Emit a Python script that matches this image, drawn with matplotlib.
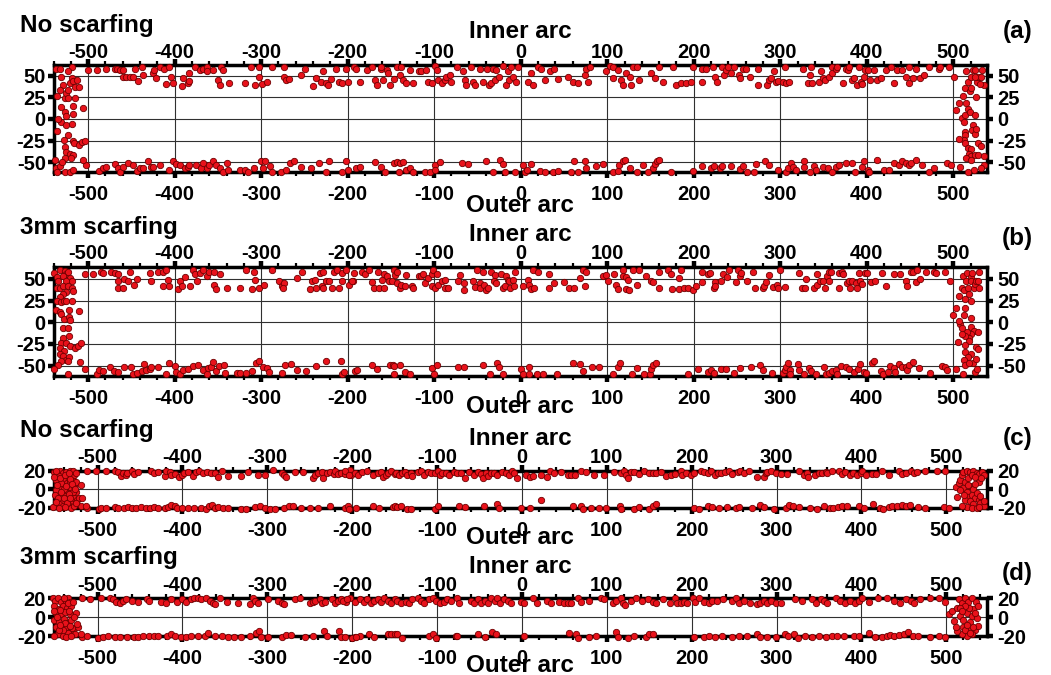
import matplotlib.pyplot as plt
import numpy as np
from matplotlib.ticker import MultipleLocator

plt.rcParams['font.family'] = ['Liberation Sans', 'DejaVu Sans']
plt.rcParams['font.weight'] = 'bold'
plt.rcParams['axes.unicode_minus'] = False

# ---- (a) no scarfing, 60 mm section ----
a_inner = [(-500, 57), (-490, 57), (-479, 58), (-469, 58), (-467, 58), (-463, 57), (-460, 57), (-460, 48),
           (-456, 49), (-451, 48), (-446, 58), (-448, 48), (-442, 44), (-438, 60), (-437, 51), (-425, 53),
           (-424, 57), (-421, 47), (-417, 60), (-412, 58), (-406, 60), (-410, 40), (-404, 48), (-402, 41),
           (-392, 38), (-390, 47), (-385, 42), (-383, 53), (-383, 44), (-376, 60), (-371, 57), (-367, 58),
           (-363, 60), (-362, 55), (-356, 57), (-350, 45), (-348, 39), (-346, 60), (-344, 57), (-337, 41),
           (-319, 42), (-312, 60), (-307, 39), (-302, 49), (-302, 60), (-299, 40), (-293, 43), (-287, 60),
           (-274, 49), (-273, 60), (-271, 45), (-268, 46), (-254, 51), (-249, 58), (-240, 38), (-237, 47),
           (-231, 43), (-229, 55), (-225, 42), (-223, 39), (-219, 46), (-213, 58), (-210, 43), (-206, 41),
           (-202, 58), (-200, 43), (-193, 60), (-190, 58), (-186, 43), (-178, 57), (-172, 60), (-168, 45),
           (-166, 39), (-162, 58), (-161, 60), (-159, 45), (-155, 57), (-153, 53), (-151, 39), (-147, 46),
           (-143, 60), (-140, 51), (-138, 60), (-136, 45), (-132, 41), (-128, 57), (-124, 42), (-118, 55),
           (-115, 55), (-109, 57), (-107, 43), (-103, 41), (-99, 61), (-97, 57), (-95, 45), (-91, 41),
           (-88, 45), (-86, 49), (-82, 51), (-80, 43), (-74, 60), (-67, 55), (-64, 45), (-63, 39),
           (-57, 60), (-55, 43), (-53, 39), (-47, 58), (-43, 43), (-39, 58), (-37, 39), (-34, 42),
           (-32, 58), (-30, 45), (-28, 57), (-25, 48), (-20, 61), (-17, 39), (-15, 55), (-13, 45),
           (-11, 60), (-9, 49), (-5, 43), (-3, 60), (8, 43), (12, 53), (14, 39), (20, 60),
           (24, 58), (28, 45), (34, 55), (39, 58), (43, 46), (55, 48), (61, 43), (66, 41),
           (74, 51), (76, 58), (78, 43), (80, 60), (99, 55), (103, 61), (107, 60), (107, 47),
           (112, 57), (116, 45), (118, 39), (122, 53), (126, 49), (128, 39), (130, 60), (134, 60),
           (137, 45), (151, 53), (155, 47), (160, 60), (164, 43), (176, 60), (180, 39), (185, 41),
           (191, 41), (197, 43), (199, 60), (210, 43), (210, 58), (214, 58), (222, 60), (225, 49),
           (227, 43), (233, 60), (235, 51), (237, 57), (240, 60), (243, 53), (247, 60), (252, 51),
           (253, 47), (257, 58), (260, 58), (265, 49), (274, 58), (274, 39), (285, 39), (287, 45),
           (289, 47), (293, 55), (295, 43), (298, 44), (305, 60), (303, 43), (307, 41), (310, 43),
           (326, 58), (332, 41), (334, 51), (336, 60), (337, 42), (345, 43), (347, 55), (349, 47),
           (352, 45), (356, 49), (360, 60), (360, 53), (364, 58), (366, 60), (373, 42), (376, 58),
           (378, 57), (380, 60), (383, 45), (385, 47), (389, 39), (391, 60), (393, 43), (395, 40),
           (397, 49), (398, 57), (402, 57), (404, 45), (408, 57), (412, 45), (416, 47), (422, 57),
           (428, 60), (432, 42), (435, 57), (441, 57), (445, 49), (449, 60), (449, 42), (453, 47),
           (457, 58), (462, 47), (466, 51), (472, 60), (483, 58), (485, 60), (495, 60)]
a_outer = [(-502, -53), (-487, -60), (-483, -56), (-479, -55), (-469, -52), (-465, -57), (-463, -61),
           (-460, -55), (-454, -51), (-448, -53), (-444, -60), (-440, -57), (-437, -57), (-431, -48),
           (-427, -55), (-425, -55), (-417, -53), (-406, -59), (-402, -48), (-398, -52), (-394, -53),
           (-388, -57), (-385, -55), (-383, -53), (-375, -53), (-369, -57), (-367, -51), (-362, -57),
           (-360, -53), (-356, -48), (-352, -53), (-348, -57), (-344, -61), (-340, -51), (-338, -59),
           (-325, -59), (-319, -59), (-315, -61), (-308, -57), (-300, -48), (-296, -48), (-298, -57),
           (-290, -54), (-287, -61), (-277, -61), (-271, -59), (-267, -51), (-262, -49), (-254, -55),
           (-242, -57), (-233, -51), (-225, -61), (-221, -48), (-206, -61), (-202, -48), (-200, -59),
           (-190, -57), (-186, -55), (-168, -50), (-161, -55), (-157, -61), (-147, -51), (-143, -50),
           (-140, -51), (-141, -61), (-136, -50), (-132, -59), (-128, -57), (-124, -61), (-111, -61),
           (-105, -61), (-99, -53), (-99, -59), (-93, -50), (-68, -51), (-61, -52), (-40, -49),
           (-32, -61), (-24, -47), (-21, -52), (-18, -61), (-7, -61), (3, -53), (5, -61), (7, -59),
           (12, -52), (22, -60), (28, -61), (37, -61), (43, -60), (62, -48), (58, -61), (66, -61),
           (74, -49), (76, -57), (87, -54), (95, -52), (107, -61), (112, -60), (114, -53), (118, -49),
           (120, -47), (126, -57), (134, -61), (141, -53), (147, -61), (153, -57), (155, -52),
           (157, -49), (160, -47), (174, -61), (199, -60), (210, -54), (220, -57), (224, -54),
           (230, -57), (233, -54), (243, -54), (253, -58), (257, -54), (262, -61), (270, -61),
           (272, -52), (282, -49), (287, -53), (297, -59), (307, -61), (309, -57), (313, -51),
           (315, -55), (318, -59), (328, -49), (328, -55), (334, -61), (339, -54), (341, -59),
           (349, -55), (355, -57), (360, -61), (364, -55), (368, -53), (376, -51), (383, -51),
           (387, -61), (395, -55), (397, -49), (401, -59), (403, -61), (412, -47), (420, -59),
           (426, -59), (432, -51), (437, -53), (441, -49), (445, -51), (449, -53), (451, -51),
           (457, -47), (464, -53), (472, -61), (478, -57), (493, -51), (497, -53), (508, -55)]
a_end_l = [(-537, 58), (-533, 58), (-531, 49), (-529, 39), (-532, 33), (-536, 27), (-527, 24), (-525, 30),
           (-523, 33), (-521, 41), (-519, 47), (-519, 60), (-523, 55), (-517, 44), (-515, 37), (-513, 45),
           (-511, 37), (-515, 24), (-523, 24), (-531, 14), (-527, 8), (-525, 3), (-531, -3), (-535, 0),
           (-536, -14), (-517, 15), (-517, 6), (-519, -6), (-525, -7), (-523, -18), (-528, -24),
           (-517, -25), (-516, -28), (-510, -30), (-507, -27), (-504, -25), (-506, 13), (-527, -32),
           (-525, -38), (-521, -40), (-517, -41), (-527, -45), (-520, -45), (-506, -47), (-537, -56),
           (-533, -54), (-530, -50), (-527, -61), (-521, -61), (-517, -59), (-538, -47), (-536, -61)]
a_end_r = [(501, 49), (503, 10), (507, 19), (511, 27), (513, 36), (515, 55), (517, 43), (519, 32),
           (520, 48), (521, 36), (523, 57), (525, 57), (526, 25), (527, 43), (529, 48), (532, 48),
           (533, 57), (536, 39), (531, 40), (525, 49), (510, 1), (512, -3), (514, 5), (515, 18),
           (517, 12), (519, 8), (523, -7), (525, 5), (522, -13), (525, -17), (526, -11), (513, -15),
           (514, -18), (512, -24), (507, -23), (514, -28), (517, -34), (521, -35), (518, -40),
           (520, -43), (515, -45), (525, -42), (529, -28), (532, -31), (529, -41), (536, -43),
           (536, -53), (532, -57), (524, -59), (517, -61), (520, -47)]

# ---- (b) 3mm scarfing, 60 mm section ----
b_inner = [(-504, 56), (-494, 56), (-485, 58), (-483, 57), (-473, 58), (-469, 57), (-465, 56), (-465, 47),
           (-465, 40), (-460, 40), (-459, 50), (-454, 48), (-452, 58), (-447, 43), (-443, 50), (-429, 57),
           (-427, 47), (-419, 58), (-414, 42), (-413, 58), (-410, 60), (-408, 49), (-407, 42), (-396, 38),
           (-394, 47), (-391, 42), (-388, 52), (-382, 42), (-379, 60), (-377, 56), (-374, 48), (-371, 57),
           (-367, 60), (-363, 53), (-360, 58), (-354, 58), (-354, 43), (-352, 38), (-348, 56), (-340, 39),
           (-325, 40), (-317, 60), (-310, 38), (-308, 58), (-307, 49), (-303, 40), (-297, 43), (-288, 60),
           (-279, 48), (-276, 42), (-273, 45), (-275, 39), (-258, 51), (-253, 58), (-244, 38), (-241, 48),
           (-238, 49), (-237, 40), (-232, 57), (-229, 58), (-230, 42), (-228, 39), (-225, 47), (-222, 47),
           (-218, 40), (-216, 58), (-212, 60), (-210, 40), (-206, 47), (-206, 57), (-202, 60), (-199, 43),
           (-194, 48), (-193, 57), (-195, 48), (-183, 58), (-180, 56), (-175, 60), (-172, 46), (-170, 40),
           (-165, 58), (-164, 40), (-160, 49), (-158, 56), (-158, 40), (-155, 53), (-152, 47), (-149, 48),
           (-147, 60), (-145, 55), (-143, 58), (-143, 45), (-140, 40), (-138, 43), (-134, 42), (-132, 55),
           (-126, 42), (-124, 40), (-118, 53), (-115, 53), (-113, 56), (-111, 45), (-107, 51), (-103, 56),
           (-101, 60), (-97, 56), (-103, 42), (-99, 39), (-95, 43), (-91, 47), (-88, 49), (-88, 40),
           (-84, 40), (-72, 47), (-70, 55), (-66, 45), (-66, 37), (-55, 47), (-51, 60), (-53, 41),
           (-47, 45), (-47, 39), (-43, 58), (-42, 43), (-40, 37), (-38, 40), (-34, 58), (-31, 47),
           (-30, 55), (-29, 45), (-23, 56), (-20, 39), (-18, 42), (-17, 53), (-15, 49), (-13, 47),
           (-12, 40), (-9, 49), (-8, 42), (-7, 58), (3, 42), (8, 49), (10, 43), (12, 38), (15, 40),
           (14, 60), (20, 58), (33, 56), (33, 39), (39, 45), (50, 46), (56, 40), (62, 40), (68, 51),
           (72, 60), (76, 58), (74, 42), (95, 53), (99, 55), (101, 47), (108, 56), (110, 43), (112, 38),
           (118, 60), (118, 53), (122, 52), (124, 49), (122, 38), (125, 37), (130, 60), (134, 43),
           (137, 60), (145, 53), (151, 48), (153, 46), (160, 40), (160, 58), (170, 60), (174, 56),
           (175, 38), (183, 38), (183, 51), (185, 60), (189, 39), (193, 39), (199, 37), (203, 42),
           (210, 58), (210, 46), (216, 56), (219, 57), (224, 39), (225, 46), (225, 42), (231, 48),
           (234, 56), (239, 52), (241, 60), (249, 46), (251, 60), (253, 53), (255, 57), (262, 48),
           (268, 58), (271, 40), (280, 39), (281, 42), (283, 46), (287, 55), (292, 41), (296, 43),
           (298, 39), (300, 60), (306, 41), (322, 57), (325, 40), (329, 40), (330, 50), (339, 40),
           (342, 56), (343, 43), (346, 47), (350, 48), (352, 40), (354, 53), (356, 58), (356, 47),
           (359, 58), (368, 40), (368, 57), (371, 58), (372, 56), (377, 45), (379, 48), (381, 40),
           (383, 47), (388, 45), (389, 40), (391, 57), (392, 48), (395, 44), (398, 57), (400, 57),
           (405, 46), (409, 47), (418, 57), (422, 42), (432, 56), (439, 56), (445, 48), (447, 42),
           (451, 58), (453, 58), (458, 60), (457, 46), (462, 50), (468, 58), (478, 58), (480, 57),
           (490, 58), (496, 48)]
b_outer = [(-490, -59), (-487, -55), (-483, -56), (-475, -52), (-470, -56), (-465, -57), (-458, -51),
           (-450, -52), (-448, -59), (-444, -58), (-438, -56), (-435, -48), (-433, -55), (-429, -54),
           (-427, -51), (-419, -51), (-410, -59), (-406, -47), (-400, -50), (-398, -57), (-394, -59),
           (-390, -55), (-385, -54), (-379, -50), (-373, -49), (-367, -55), (-363, -59), (-361, -53),
           (-358, -51), (-356, -46), (-352, -56), (-349, -50), (-342, -58), (-343, -49), (-328, -58),
           (-324, -58), (-318, -58), (-310, -56), (-306, -47), (-303, -45), (-298, -51), (-293, -53),
           (-291, -57), (-276, -58), (-272, -49), (-266, -48), (-258, -55), (-248, -56), (-237, -50),
           (-225, -45), (-208, -45), (-206, -59), (-204, -57), (-192, -56), (-189, -55), (-172, -49),
           (-166, -54), (-151, -49), (-148, -49), (-146, -50), (-140, -49), (-147, -59), (-134, -57),
           (-128, -59), (-103, -53), (-100, -59), (-97, -49), (-72, -51), (-66, -51), (-43, -49),
           (-35, -59), (-27, -47), (-25, -52), (-21, -59), (0, -54), (3, -59), (10, -59), (10, -52),
           (19, -59), (26, -59), (42, -59), (60, -47), (69, -48), (72, -56), (83, -52), (90, -51),
           (107, -59), (112, -51), (115, -47), (129, -59), (135, -53), (142, -60), (149, -59),
           (151, -54), (153, -49), (156, -47), (193, -60), (205, -54), (216, -57), (220, -55),
           (224, -58), (232, -54), (237, -54), (247, -58), (253, -53), (266, -52), (277, -49),
           (280, -55), (290, -58), (303, -58), (305, -55), (307, -52), (309, -47), (311, -55),
           (311, -59), (321, -48), (322, -55), (328, -60), (333, -53), (335, -56), (341, -59),
           (351, -52), (353, -59), (356, -58), (360, -56), (364, -55), (366, -59), (370, -50),
           (376, -51), (379, -54), (385, -57), (390, -54), (392, -48), (397, -57), (399, -58),
           (406, -47), (408, -45), (416, -56), (419, -59), (424, -57), (427, -50), (432, -53),
           (433, -57), (437, -48), (441, -51), (445, -51), (447, -55), (449, -49), (453, -46),
           (460, -53), (473, -58), (487, -50), (490, -51), (493, -55), (503, -54)]
b_end_l = [(-540, 57), (-536, 52), (-533, 60), (-527, 59), (-525, 56), (-523, 58), (-529, 53), (-521, 51),
           (-519, 48), (-525, 47), (-535, 47), (-536, 40), (-533, 39), (-529, 42), (-523, 42), (-519, 40),
           (-517, 36), (-525, 35), (-529, 33), (-533, 29), (-536, 25), (-531, 23), (-528, 25), (-525, 24),
           (-519, 24), (-537, 14), (-533, 12), (-531, 9), (-528, 4), (-522, 14), (-522, 6), (-521, 3),
           (-510, 13), (-529, -7), (-523, -7), (-522, -16), (-529, -18), (-531, -24), (-533, -30),
           (-528, -33), (-525, -24), (-521, -27), (-515, -30), (-512, -27), (-508, -24), (-533, -36),
           (-529, -39), (-525, -43), (-522, -40), (-531, -44), (-535, -49), (-539, -54), (-523, -45),
           (-509, -46), (-523, -59), (-504, -54)]
b_end_r = [(500, 8), (503, 17), (505, -23), (507, 30), (510, 40), (511, 53), (512, 37), (513, 27),
           (514, 16), (515, 47), (516, 57), (517, 40), (518, 33), (520, 52), (521, 24), (521, 47),
           (522, 57), (524, 40), (525, 44), (526, 47), (529, 48), (530, 58), (530, 39), (520, 5),
           (521, -5), (524, -10), (521, -14), (518, -18), (516, -11), (514, -16), (510, -14), (508, -2),
           (510, -7), (507, 2), (512, 8), (518, -22), (513, -26), (514, -34), (520, -36), (517, -40),
           (523, -47), (526, -42), (526, -28), (529, -31), (529, -11), (512, -43), (513, -49),
           (511, -59), (525, -57), (527, -54), (518, -47)]

# ---- (c) no scarfing, 20 mm section ----
c_inner = [(-513, 20), (-502, 20), (-490, 20), (-480, 20), (-476, 19), (-473, 14), (-470, 17), (-466, 15),
           (-465, 18), (-459, 20), (-457, 16), (-453, 19), (-437, 20), (-433, 18), (-429, 19), (-421, 14),
           (-419, 20), (-415, 19), (-413, 15), (-409, 16), (-404, 13), (-400, 15), (-398, 17), (-394, 19),
           (-388, 14), (-384, 19), (-380, 20), (-376, 18), (-371, 19), (-366, 18), (-362, 17), (-358, 13),
           (-354, 20), (-346, 14), (-331, 14), (-323, 19), (-311, 15), (-303, 15), (-293, 21), (-283, 17),
           (-280, 15), (-278, 13), (-268, 19), (-258, 19), (-246, 12), (-244, 15), (-240, 17), (-236, 19),
           (-234, 12), (-230, 17), (-226, 19), (-222, 16), (-220, 20), (-217, 16), (-213, 18), (-209, 16),
           (-203, 21), (-201, 15), (-197, 17), (-193, 15), (-209, 20), (-204, 15), (-188, 19), (-182, 20),
           (-176, 15), (-170, 17), (-166, 19), (-164, 13), (-160, 15), (-158, 17), (-154, 20), (-150, 16),
           (-149, 18), (-145, 15), (-141, 17), (-138, 19), (-135, 15), (-131, 17), (-129, 14), (-123, 19),
           (-119, 20), (-115, 15), (-111, 19), (-107, 17), (-103, 18), (-99, 20), (-97, 15), (-94, 18),
           (-90, 17), (-86, 15), (-80, 19), (-76, 17), (-72, 18), (-67, 12), (-62, 19), (-56, 15),
           (-52, 19), (-48, 16), (-46, 12), (-42, 18), (-40, 14), (-37, 18), (-33, 17), (-29, 15),
           (-23, 19), (-19, 17), (-15, 15), (-12, 20), (-9, 17), (-6, 12), (5, 15), (9, 13), (13, 14),
           (22, 15), (30, 13), (33, 20), (38, 17), (46, 19), (54, 15), (58, 15), (62, 15), (70, 20),
           (75, 19), (85, 15), (97, 15), (109, 19), (117, 17), (120, 20), (123, 15), (125, 12),
           (128, 19), (132, 19), (138, 16), (144, 20), (150, 17), (154, 17), (158, 17), (164, 19),
           (170, 14), (176, 15), (180, 16), (187, 20), (189, 15), (193, 17), (199, 15), (203, 17),
           (211, 20), (215, 19), (219, 17), (223, 20), (228, 15), (231, 17), (235, 18), (239, 19),
           (244, 20), (248, 16), (254, 19), (257, 20), (262, 17), (267, 20), (277, 13), (285, 13),
           (287, 17), (289, 19), (294, 20), (299, 17), (305, 16), (312, 16), (326, 20), (332, 15),
           (336, 17), (337, 13), (345, 15), (350, 17), (354, 18), (358, 19), (360, 17), (365, 20),
           (374, 20), (377, 16), (381, 19), (387, 15), (390, 17), (395, 15), (399, 17), (401, 20),
           (405, 15), (413, 16), (417, 16), (424, 20), (433, 15), (444, 20), (448, 16), (453, 17),
           (458, 20), (462, 17), (466, 19), (475, 20), (489, 20), (499, 20)]
c_outer = [(-541, -19), (-520, -18), (-513, -20), (-498, -21), (-496, -20), (-490, -20), (-480, -19),
           (-476, -20), (-469, -20), (-464, -19), (-459, -20), (-455, -20), (-449, -19), (-443, -20),
           (-438, -20), (-434, -19), (-429, -20), (-421, -20), (-417, -19), (-413, -17), (-409, -18),
           (-406, -20), (-400, -20), (-394, -20), (-387, -20), (-378, -20), (-372, -21), (-369, -18),
           (-365, -17), (-362, -20), (-358, -19), (-352, -20), (-346, -20), (-331, -21), (-325, -21),
           (-315, -19), (-309, -18), (-303, -20), (-297, -21), (-291, -21), (-280, -20), (-275, -18),
           (-270, -18), (-260, -20), (-250, -20), (-240, -20), (-226, -18), (-209, -20), (-205, -18),
           (-204, -21), (-196, -20), (-176, -18), (-168, -20), (-152, -19), (-150, -18), (-147, -19),
           (-143, -18), (-135, -21), (-131, -21), (-103, -21), (-99, -18), (-74, -18), (-67, -19),
           (-45, -18), (-29, -16), (-27, -20), (-1, -20), (10, -20), (22, -12), (60, -18), (70, -18),
           (72, -21), (81, -20), (91, -20), (99, -20), (115, -18), (117, -21), (132, -21), (138, -19),
           (150, -21), (154, -18), (158, -16), (203, -20), (209, -21), (219, -18), (224, -19),
           (232, -20), (242, -19), (252, -20), (256, -19), (271, -20), (281, -17), (285, -19),
           (297, -21), (311, -20), (315, -17), (319, -18), (326, -19), (340, -20), (348, -21),
           (356, -18), (363, -20), (367, -20), (373, -19), (377, -18), (383, -18), (397, -18),
           (403, -20), (414, -16), (422, -20), (426, -21), (432, -19), (436, -18), (442, -18),
           (448, -17), (453, -18), (457, -17), (467, -19), (475, -20), (497, -19), (503, -20)]
c_end_l = [(-551, 19), (-549, 10), (-547, 16), (-544, 20), (-541, 17), (-539, 11), (-537, 19), (-535, 14),
           (-533, 20), (-531, 16), (-529, 10), (-536, 7), (-541, 4), (-545, 1), (-549, -1), (-550, -6),
           (-544, -8), (-539, -4), (-535, -1), (-532, 2), (-528, 4), (-531, -8), (-537, -12), (-542, -13),
           (-546, -16), (-541, -18), (-535, -17), (-531, -20), (-529, -13), (-528, -10), (-526, -3),
           (-529, -3), (-526, 8), (-528, 15), (-520, 5), (-524, -12), (-522, -10), (-518, -9),
           (-514, -18), (-553, -19), (-543, 7), (-533, 8), (-538, -1), (-546, 14), (-529, 20), (-528, -18),
           (-551, 13), (-548, 5), (-544, 12), (-540, 0), (-537, 4), (-534, -5), (-532, 11), (-530, 6),
           (-547, -10), (-543, -3), (-540, -9), (-536, -15), (-533, -10), (-549, -14), (-545, -20),
           (-539, 15), (-534, 17), (-526, 18), (-525, -15), (-527, 0), (-549, 20), (-539, -19)]
c_end_r = [(511, 2), (513, -8), (515, 7), (516, 10), (518, 15), (520, 19), (524, 20), (528, 19), (532, 20),
           (536, 18), (539, 16), (542, 19), (545, 15), (522, 8), (526, 12), (530, 15), (534, 13), (520, 1),
           (524, -3), (528, 3), (532, 0), (526, -8), (530, -6), (534, -10), (536, -4), (522, -12),
           (528, -13), (532, -16), (538, -12), (540, -15), (544, -18), (524, -19), (530, -20),
           (536, -20), (518, -18), (526, 5), (516, -1), (538, 8), (541, 12), (534, 6), (540, -7),
           (544, -13), (521, -6), (538, -19)]

# ---- (d) 3mm scarfing, 20 mm section ----
d_inner = [(-518, 20), (-509, 19), (-496, 20), (-486, 20), (-482, 19), (-478, 16), (-474, 15), (-470, 17),
           (-467, 19), (-459, 17), (-453, 16), (-442, 19), (-439, 17), (-425, 16), (-419, 15), (-413, 19),
           (-407, 16), (-400, 19), (-396, 16), (-390, 19), (-386, 20), (-382, 20), (-378, 19), (-372, 20),
           (-368, 17), (-364, 15), (-362, 14), (-356, 20), (-348, 16), (-335, 15), (-321, 14), (-317, 20),
           (-315, 17), (-311, 15), (-299, 19), (-287, 17), (-283, 15), (-280, 14), (-268, 19), (-262, 20),
           (-250, 15), (-246, 16), (-244, 17), (-238, 19), (-236, 15), (-232, 16), (-224, 19), (-220, 15),
           (-217, 17), (-213, 19), (-207, 16), (-203, 20), (-197, 16), (-191, 19), (-211, 17), (-206, 19),
           (-186, 16), (-182, 19), (-178, 15), (-174, 17), (-170, 19), (-166, 16), (-162, 20), (-158, 17),
           (-154, 15), (-150, 19), (-147, 17), (-143, 15), (-137, 16), (-133, 15), (-129, 19), (-123, 20),
           (-119, 17), (-115, 15), (-109, 19), (-105, 20), (-101, 17), (-97, 15), (-92, 16), (-88, 19),
           (-84, 17), (-76, 20), (-74, 15), (-60, 17), (-56, 15), (-52, 19), (-48, 15), (-44, 17),
           (-40, 15), (-37, 20), (-32, 17), (-29, 20), (-26, 15), (-21, 19), (-17, 17), (-13, 15),
           (-1, 16), (3, 15), (13, 20), (18, 15), (30, 17), (34, 15), (44, 16), (49, 15), (54, 15),
           (58, 15), (66, 20), (70, 16), (79, 17), (93, 20), (97, 19), (107, 15), (111, 17), (117, 20),
           (119, 15), (121, 13), (128, 17), (134, 20), (142, 17), (148, 19), (154, 16), (158, 15),
           (166, 19), (174, 15), (180, 20), (183, 15), (187, 15), (191, 16), (195, 15), (201, 20),
           (204, 16), (209, 20), (215, 16), (220, 15), (224, 17), (230, 17), (237, 19), (248, 17),
           (252, 20), (256, 15), (262, 17), (269, 15), (277, 14), (281, 15), (285, 17), (289, 15),
           (293, 17), (299, 15), (305, 15), (322, 19), (330, 17), (342, 19), (346, 15), (352, 19),
           (356, 17), (360, 15), (370, 20), (375, 17), (381, 15), (387, 17), (393, 15), (397, 17),
           (401, 20), (409, 16), (420, 20), (430, 20), (438, 17), (446, 15), (452, 19), (458, 17),
           (462, 15), (469, 19), (481, 20), (491, 20), (499, 16)]
d_outer = [(-518, -21), (-513, -20), (-500, -22), (-494, -21), (-488, -20), (-480, -21), (-474, -21),
           (-465, -21), (-457, -21), (-453, -21), (-447, -20), (-439, -20), (-434, -20), (-429, -20),
           (-418, -20), (-413, -18), (-409, -20), (-402, -21), (-396, -21), (-390, -20), (-382, -20),
           (-374, -20), (-370, -17), (-362, -20), (-354, -20), (-346, -21), (-339, -21), (-331, -21),
           (-321, -20), (-313, -17), (-310, -15), (-307, -21), (-299, -21), (-283, -21), (-278, -19),
           (-272, -19), (-256, -21), (-246, -20), (-233, -15), (-230, -20), (-215, -15), (-213, -21),
           (-197, -21), (-191, -20), (-209, -21), (-200, -22), (-196, -21), (-180, -18), (-174, -21),
           (-158, -18), (-154, -18), (-150, -18), (-147, -18), (-141, -22), (-109, -20), (-105, -18),
           (-101, -22), (-78, -20), (-76, -20), (-52, -18), (-43, -21), (-35, -16), (-31, -18),
           (3, -20), (56, -17), (64, -18), (66, -22), (79, -21), (87, -20), (111, -16), (113, -21),
           (125, -22), (132, -20), (146, -21), (150, -18), (154, -18), (203, -21), (215, -21),
           (220, -20), (228, -21), (236, -20), (248, -21), (256, -20), (265, -20), (277, -18),
           (281, -21), (289, -21), (299, -21), (310, -18), (313, -20), (321, -18), (325, -22),
           (334, -20), (342, -21), (350, -20), (358, -21), (365, -20), (371, -20), (379, -20),
           (391, -20), (397, -20), (409, -17), (416, -21), (424, -21), (430, -20), (434, -19),
           (439, -20), (444, -19), (450, -18), (455, -16), (461, -20), (467, -20), (481, -21),
           (491, -20), (499, -21)]
d_end_l = [(-553, 20), (-550, 17), (-547, 20), (-543, 16), (-539, 19), (-537, 15), (-535, 20), (-533, 16),
           (-551, 12), (-546, 9), (-541, 12), (-536, 10), (-531, 12), (-526, 4), (-549, 4), (-543, 3),
           (-539, 5), (-533, 3), (-551, -3), (-545, -5), (-540, -2), (-535, -6), (-531, -3), (-549, -10),
           (-543, -12), (-537, -10), (-531, -14), (-528, -11), (-523, -10), (-530, -11), (-527, -18),
           (-547, -18), (-541, -20), (-535, -17), (-551, -20), (-520, -18), (-524, -7), (-537, -21),
           (-531, -20), (-541, -14), (-535, 15), (-548, 0), (-544, 8), (-538, -6), (-534, 7), (-529, 16),
           (-546, -14), (-552, 7), (-540, 20), (-528, 0), (-544, -8), (-533, -9)]
d_end_r = [(503, 3), (507, 6), (509, -4), (513, 10), (515, 19), (516, 1), (518, 15), (520, -10), (522, 20),
           (524, 4), (526, 16), (528, -5), (530, 20), (532, 9), (534, -14), (535, 16), (537, -9),
           (530, -18), (524, -20), (518, -18), (513, -15), (520, -3), (526, -14), (530, 1), (527, 10),
           (522, 12), (516, 10), (532, -10), (536, -1), (511, -10), (522, -14), (534, 4), (518, 6),
           (528, -17), (537, 12), (524, -8)]

panels = [
    dict(pts=a_inner + a_outer + a_end_l + a_end_r, title='No scarfing', tag='(a)',
         top=65, bottom=172.3, xlim=(-540, 539), ylim=(-61.5, 62.3), yt=[-50, -25, 0, 25, 50],
         title_y=32.3, inner_y=37.7, tag_y=38.3, outer_y=211.7),
    dict(pts=b_inner + b_outer + b_end_l + b_end_r, title='3mm scarfing', tag='(b)',
         top=266.7, bottom=375.7, xlim=(-540, 539), ylim=(-61.5, 64), yt=[-50, -25, 0, 25, 50],
         title_y=234.3, inner_y=241, tag_y=245, outer_y=413),
    dict(pts=c_inner + c_outer + c_end_l + c_end_r, title='No scarfing', tag='(c)',
         top=470.7, bottom=507.7, xlim=(-552, 548), ylim=(-20, 20), yt=[-20, 0, 20],
         title_y=437.3, inner_y=445, tag_y=445, outer_y=544),
    dict(pts=d_inner + d_outer + d_end_l + d_end_r, title='3mm scarfing', tag='(d)',
         top=598.3, bottom=636, xlim=(-552, 548), ylim=(-20, 20), yt=[-20, 0, 20],
         title_y=564.3, inner_y=573.3, tag_y=580, outer_y=671.5),
]

W, H = 1051, 675
fig = plt.figure(figsize=(W / 100, H / 100), dpi=100)

left_px, right_px = 53.5, 987
xt = list(range(-500, 501, 100))

for p in panels:
    rect = [left_px / W, 1 - p['bottom'] / H, (right_px - left_px) / W, (p['bottom'] - p['top']) / H]
    ax = fig.add_axes(rect)
    xy = np.array(p['pts'], dtype=float)
    ax.scatter(xy[:, 0], xy[:, 1], s=21, c='#e8121b', edgecolors='#700000', linewidths=0.6,
               zorder=5, clip_on=False)
    ax.set_xlim(p['xlim'])
    ax.set_ylim(p['ylim'])
    ax.set_xticks(xt)
    ax.set_yticks(p['yt'])
    ax.xaxis.set_minor_locator(MultipleLocator(20))
    ax.grid(True, which='major', color='#303030', linewidth=0.8)
    for s in ax.spines.values():
        s.set_linewidth(2.5)
    ax.tick_params(which='major', direction='out', length=4.5, width=3.2, labelsize=14.5)
    ax.tick_params(which='minor', direction='out', length=3, width=1.6)
    ax.tick_params(axis='x', which='major', pad=5)
    ax.tick_params(axis='y', which='major', pad=1)
    ax.tick_params(axis='y', which='minor', left=False)

    # labels on the top and right edges come from secondary axes so their pads can differ
    top = ax.secondary_xaxis('top')
    top.set_xticks(xt)
    top.xaxis.set_minor_locator(MultipleLocator(20))
    top.spines['top'].set_visible(False)
    top.tick_params(which='major', direction='out', length=4.5, width=3.2, labelsize=14.5, pad=-2)
    top.tick_params(which='minor', direction='out', length=3, width=1.6)

    right = ax.secondary_yaxis('right')
    right.set_yticks(p['yt'])
    right.spines['right'].set_visible(False)
    right.tick_params(which='major', direction='out', length=4.5, width=3.2, labelsize=14.5, pad=3)
    right.tick_params(which='minor', right=False)

    fig.text(20 / W, 1 - p['title_y'] / H, p['title'], fontsize=17.5, fontweight='bold',
             ha='left', va='baseline')
    cx = (left_px + right_px) / 2 / W
    fig.text(cx, 1 - p['inner_y'] / H, 'Inner arc', fontsize=17.5, fontweight='bold',
             ha='center', va='baseline')
    fig.text(cx, 1 - p['outer_y'] / H, 'Outer arc', fontsize=17.5, fontweight='bold',
             ha='center', va='baseline')
    fig.text(1033 / W, 1 - p['tag_y'] / H, p['tag'], fontsize=17.5, fontweight='bold',
             ha='right', va='baseline')

fig.savefig('out.png', dpi=100)
